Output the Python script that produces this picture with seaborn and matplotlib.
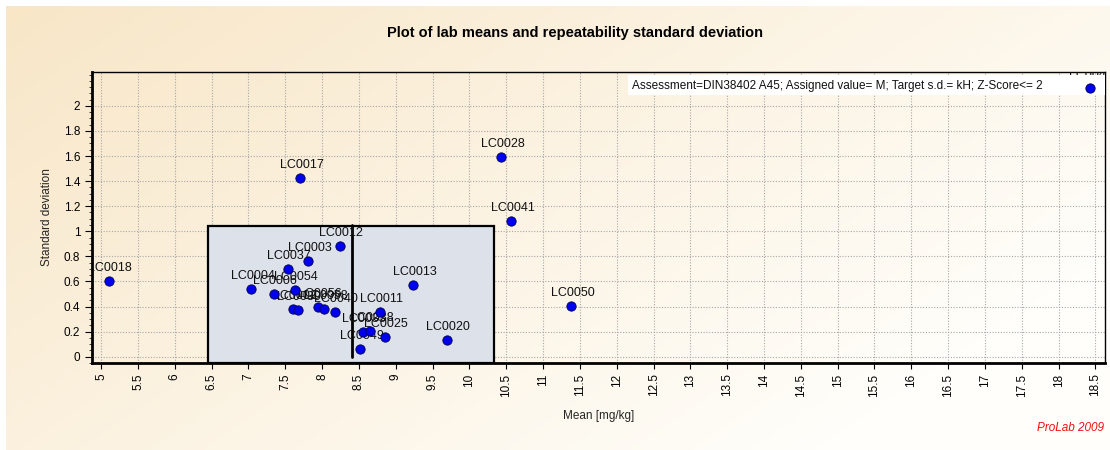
import numpy as np
import pandas as pd
import matplotlib
matplotlib.use("Agg")
import matplotlib.pyplot as plt
import seaborn as sns
from matplotlib.patches import Rectangle
from matplotlib.ticker import MultipleLocator

sns.set_theme(style="white")
plt.rcParams['font.family'] = ['Liberation Sans', 'DejaVu Sans']

labs = ["LC0018", "LC0004", "LC0006", "LC0037", "LC0054", "LC0002", "LC0030",
        "LC0017", "LC0003", "LC0056", "LC0058", "LC0040", "LC0012", "LC0049",
        "LC0033", "LC0038", "LC0011", "LC0025", "LC0013", "LC0020", "LC0028",
        "LC0041", "LC0050", "LC0044"]
means = [5.10, 7.04, 7.34, 7.53, 7.63, 7.61, 7.67,
         7.70, 7.81, 7.95, 8.03, 8.17, 8.24, 8.52,
         8.55, 8.65, 8.79, 8.85, 9.24, 9.69, 10.43,
         10.57, 11.38, 18.42]
sds = [0.607, 0.543, 0.50, 0.702, 0.53, 0.381, 0.370,
       1.426, 0.766, 0.397, 0.378, 0.359, 0.886, 0.059,
       0.197, 0.205, 0.354, 0.157, 0.575, 0.131, 1.594,
       1.083, 0.405, 2.14]

assigned = 8.40
box_x = [6.45, 10.33]
box_top = 1.04
x_ticks = np.arange(5, 18.51, 0.5)
y_ticks = np.arange(0, 2.01, 0.2)
legend_text = "Assessment=DIN38402 A45; Assigned value= M; Target s.d.= kH; Z-Score<= 2"

df = pd.DataFrame({"lab": labs, "mean": means, "sd": sds})

fig = plt.figure(figsize=(11.1, 4.5), dpi=100)
fig.patch.set_facecolor("white")

# gradient background panel
bg = fig.add_axes([6/1110, 0, 1 - 6/1110, 1 - 6/450], zorder=-10)
gx = np.linspace(0, 1, 300)
gy = np.linspace(0, 1, 120)
GX, GY = np.meshgrid(gx, gy)
t = np.clip(0.75 * GX + 0.45 * GY, 0, 1)
c0 = np.array([248, 230, 199]) / 255
c1 = np.array([255, 254, 250]) / 255
img = c0[None, None, :] * (1 - t[..., None]) + c1[None, None, :] * t[..., None]
bg.imshow(img, aspect="auto", extent=[0, 1, 0, 1], origin="upper")
bg.axis("off")

ax = fig.add_axes([92/1110, 1 - 363/450, (1105 - 92)/1110, (363 - 72)/450])
ax.patch.set_alpha(0)

ax.set_xlim(4.875, 18.63)
ax.set_ylim(-0.05, 2.27)

ax.set_xticks(x_ticks)
ax.set_xticklabels([f"{v:g}" for v in x_ticks])
ax.set_yticks(y_ticks)
ax.set_yticklabels([f"{v:g}" for v in y_ticks])
ax.yaxis.set_minor_locator(MultipleLocator(0.05))
ax.grid(True, which="major", linestyle=(0, (1, 1.5)), color="#a8a8a8", linewidth=0.8, zorder=0)
ax.set_axisbelow(True)

ax.add_patch(Rectangle((box_x[0], -0.05), box_x[1] - box_x[0], box_top + 0.05,
                       facecolor="#dde1ea", edgecolor="black", linewidth=1.6, zorder=1))
ax.plot([assigned, assigned], [0, box_top + 0.01], color="black", linewidth=2, zorder=2)

sns.scatterplot(data=df, x="mean", y="sd", ax=ax, color="#0000ee", edgecolor="#000050",
                linewidth=0.6, s=45, zorder=5, legend=False)

for lab, xv, yv in zip(labs, means, sds):
    ax.annotate(lab, (xv, yv), xytext=(1, 5), textcoords="offset points",
                ha="center", va="bottom", fontsize=9, color="#111111", zorder=3,
                annotation_clip=False, clip_on=True)

ax.add_patch(Rectangle((0.529, 0.92), 0.471, 0.07, transform=ax.transAxes,
                       facecolor="white", edgecolor="none", zorder=4))
ax.text(0.533, 0.953, legend_text, transform=ax.transAxes, ha="left", va="center",
        fontsize=8.5, color="#111111", zorder=6)

for side in ["top", "right"]:
    ax.spines[side].set_linewidth(1.0)
    ax.spines[side].set_color("black")
for side in ["left", "bottom"]:
    ax.spines[side].set_linewidth(2.0)
    ax.spines[side].set_color("black")

ax.tick_params(axis="x", which="major", direction="out", length=4, width=0.8,
               labelsize=8.5, labelrotation=90, colors="black", bottom=True)
ax.tick_params(axis="y", which="major", direction="out", length=5, width=0.8,
               labelsize=8.5, colors="black", left=True)
ax.tick_params(axis="y", which="minor", direction="out", length=2.5, width=0.6, left=True)

ax.set_xlabel("Mean [mg/kg]", fontsize=8.5, labelpad=10)
ax.set_ylabel("Standard deviation", fontsize=8.5, labelpad=8)

fig.text(575/1110, 1 - 33/450, "Plot of lab means and repeatability standard deviation",
         ha="center", va="center", fontsize=10.5, fontweight="bold", color="black")
fig.text(1104/1110, 1 - 428/450, "ProLab 2009", ha="right", va="center",
         fontsize=8.5, style="italic", color="#ee1111")

fig.savefig("out.png", dpi=100)
